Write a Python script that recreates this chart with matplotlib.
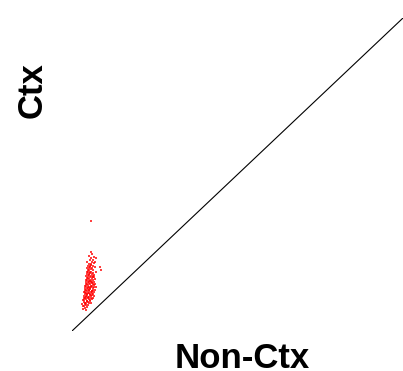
import matplotlib.pyplot as plt

# diagonal reference line (Non-Ctx == Ctx)
diag_x = [0, 100]
diag_y = [0, 100]

# cloud of points (Non-Ctx, Ctx)
cloud = [
    (3.2, 7.1), (3.8, 7.5), (4.3, 6.8),
    (3.4, 8.1), (3.7, 7.9), (4.1, 8.3), (4.6, 7.8),
    (3.1, 8.7), (3.9, 8.5), (4.3, 8.9), (4.7, 8.4), (5.2, 8.8),
    (3.5, 9.4), (4.0, 9.1), (4.4, 9.5), (4.9, 9.2), (5.3, 9.6), (5.8, 9.0),
    (3.3, 10.0), (3.7, 9.8), (4.2, 10.2), (4.6, 9.7), (5.0, 10.1), (5.5, 9.9), (6.1, 10.3),
    (3.6, 10.7), (3.9, 10.4), (4.3, 10.8), (4.7, 10.5), (5.2, 10.9), (5.6, 10.4), (6.2, 10.7),
    (3.5, 11.3), (4.1, 11.1), (4.4, 11.5), (4.9, 11.0), (5.3, 11.4), (5.8, 11.2), (6.0, 11.6), (6.7, 11.1),
    (3.8, 11.9), (4.2, 12.1), (4.6, 11.8), (5.0, 12.2), (5.5, 11.7), (5.9, 12.0), (6.4, 11.9),
    (3.7, 12.6), (4.0, 12.4), (4.5, 12.8), (4.8, 12.3), (5.2, 12.7), (5.6, 12.5), (6.1, 12.9), (6.5, 12.4),
    (3.9, 13.2), (4.3, 13.0), (4.7, 13.4), (5.1, 13.1), (5.5, 13.3), (5.9, 12.9), (6.3, 13.2), (7.0, 13.0),
    (4.0, 13.8), (4.4, 13.6), (4.9, 13.9), (5.3, 13.6), (5.8, 14.0), (6.2, 13.7), (6.6, 13.9),
    (3.9, 14.5), (4.3, 14.3), (4.7, 14.6), (5.2, 14.2), (5.6, 14.5), (6.0, 14.3), (6.5, 14.7), (7.4, 14.2),
    (4.1, 15.1), (4.6, 14.9), (5.0, 15.2), (5.4, 15.0), (5.9, 15.3), (6.3, 14.9), (6.8, 15.1),
    (4.3, 15.8), (4.8, 15.6), (5.2, 15.9), (5.6, 15.5), (6.1, 15.8), (6.6, 15.6),
    (4.2, 16.4), (4.6, 16.2), (5.0, 16.5), (5.4, 16.1), (5.8, 16.4), (6.3, 16.2), (7.0, 16.5),
    (4.5, 17.0), (4.9, 16.8), (5.3, 17.1), (6.0, 16.9), (6.4, 17.2),
    (4.3, 17.7), (4.7, 17.5), (5.1, 17.8), (5.7, 17.5), (6.2, 17.7), (6.7, 17.4),
    (4.6, 18.3), (5.0, 18.1), (5.5, 18.4), (6.0, 18.2), (6.5, 18.0),
    (4.4, 18.9), (4.9, 18.7), (5.3, 19.0), (5.8, 18.8), (6.3, 18.6), (7.3, 18.9),
    (4.7, 19.6), (5.2, 19.4), (5.6, 19.7), (6.4, 19.5),
    (4.5, 20.2), (5.0, 20.0), (5.5, 20.3), (6.1, 20.1), (7.0, 20.4),
    (4.8, 20.9), (5.3, 20.7), (5.8, 21.0), (6.2, 20.8),
    (5.0, 21.5), (5.8, 21.3), (6.6, 21.6), (8.4, 20.3),
    (4.6, 22.1), (6.1, 22.2), (6.9, 21.9), (8.9, 19.5),
    (5.5, 22.8), (6.2, 22.6),
    (5.6, 23.4), (7.3, 23.2),
    (5.1, 24.0), (6.7, 23.8),
    (5.9, 24.7),
    (5.8, 25.3),
    (5.7, 35.1),
]
non_ctx = [p[0] for p in cloud]
ctx = [p[1] for p in cloud]

fig = plt.figure(figsize=(4.03, 3.71), dpi=100)
ax = fig.add_axes([72 / 403, 40 / 371, 331 / 403, 313 / 371])
ax.plot(diag_x, diag_y, color="black", lw=0.8)
ax.scatter(non_ctx, ctx, s=3.5, marker="s", color="red", linewidths=0, alpha=0.75)
ax.set_xlim(0, 100)
ax.set_ylim(0, 100)
ax.axis("off")

font = dict(family="Liberation Sans", weight="bold", size=25)
fig.text(242 / 403, 1 - 342 / 371, "Non-Ctx", ha="center", va="top", **font)
fig.text(16 / 403, 1 - 90 / 371, "Ctx", ha="left", va="center", rotation=90, **font)

plt.savefig("out.png", dpi=100)
